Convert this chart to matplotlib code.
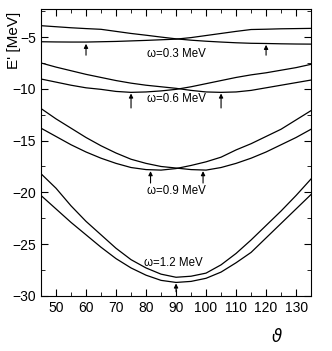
import numpy as np
import matplotlib
matplotlib.use("Agg")
import matplotlib.pyplot as plt
from matplotlib.ticker import MultipleLocator

plt.rcParams['font.family'] = ['Liberation Sans', 'DejaVu Sans']

theta = [45, 50, 55, 60, 65, 70, 75, 80, 85, 90, 95, 100, 105, 110, 115, 120, 125, 130, 135]

# omega = 0.3 MeV
w03_a = [-3.9, -4.0, -4.1, -4.18, -4.25, -4.45, -4.65, -4.82, -5.0, -5.17, -5.3, -5.4, -5.48, -5.55, -5.6, -5.62, -5.65, -5.67, -5.68]
w03_b = [-5.45, -5.47, -5.48, -5.48, -5.45, -5.42, -5.37, -5.32, -5.26, -5.2, -5.05, -4.85, -4.65, -4.45, -4.27, -4.24, -4.2, -4.18, -4.16]
# omega = 0.6 MeV
w06_a = [-7.5, -7.9, -8.25, -8.6, -8.9, -9.2, -9.45, -9.65, -9.8, -9.95, -10.15, -10.3, -10.34, -10.3, -10.15, -9.9, -9.65, -9.4, -9.15]
w06_b = [-9.05, -9.35, -9.65, -9.9, -10.05, -10.25, -10.34, -10.3, -10.2, -10.05, -9.8, -9.5, -9.2, -8.9, -8.65, -8.45, -8.2, -7.95, -7.63]
# omega = 0.9 MeV
w09_a = [-11.9, -12.9, -13.8, -14.7, -15.5, -16.2, -16.8, -17.2, -17.5, -17.65, -17.8, -17.85, -17.6, -17.2, -16.7, -16.1, -15.4, -14.7, -13.9]
w09_b = [-13.8, -14.6, -15.4, -16.1, -16.7, -17.2, -17.6, -17.8, -17.85, -17.7, -17.4, -17.05, -16.6, -15.9, -15.3, -14.6, -13.9, -13.0, -12.1]
# omega = 1.2 MeV
w12_a = [-18.2, -19.6, -21.3, -22.8, -24.1, -25.4, -26.5, -27.3, -27.9, -28.2, -28.1, -27.8, -27.0, -25.9, -24.6, -23.2, -21.8, -20.3, -18.7]
w12_b = [-20.3, -21.6, -22.9, -24.1, -25.3, -26.4, -27.3, -28.0, -28.5, -28.7, -28.6, -28.3, -27.7, -26.8, -25.8, -24.4, -23.0, -21.6, -20.2]

labels = ["\u03c9=0.3 MeV", "\u03c9=0.6 MeV", "\u03c9=0.9 MeV", "\u03c9=1.2 MeV"]
label_x = [90, 90, 90, 89]
label_y = [-6.6, -11.0, -19.9, -26.8]

arrow_x = [60, 120, 75, 105, 81.5, 99, 90]
arrow_tip = [-5.65, -5.75, -10.45, -10.45, -17.95, -17.95, -28.8]
arrow_tail = [-6.75, -6.75, -11.85, -11.85, -19.1, -19.1, -29.6]

fig = plt.figure(figsize=(3.32, 3.51), dpi=100)
ax = fig.add_axes([0.1235, 0.157, 0.8135, 0.817])

for a, b in [(w03_a, w03_b), (w06_a, w06_b), (w09_a, w09_b), (w12_a, w12_b)]:
    ax.plot(theta, a, color='black', lw=0.9)
    ax.plot(theta, b, color='black', lw=0.9)

for x, tip, tail in zip(arrow_x, arrow_tip, arrow_tail):
    ax.annotate('', xy=(x, tip), xytext=(x, tail),
                arrowprops=dict(arrowstyle='-|>', color='black', lw=0.8,
                                mutation_scale=6, shrinkA=0, shrinkB=0))

for t, x, y in zip(labels, label_x, label_y):
    ax.text(x, y, t, ha='center', va='center', fontsize=8.3)

ax.set_xlim(45, 135)
ax.set_ylim(-30, -2.3)
ax.xaxis.set_major_locator(MultipleLocator(10))
ax.xaxis.set_minor_locator(MultipleLocator(5))
ax.yaxis.set_major_locator(MultipleLocator(5))
ax.yaxis.set_minor_locator(MultipleLocator(2.5))
ax.tick_params(which='both', direction='in', top=True, right=True, labelsize=10)
ax.tick_params(which='major', length=5)
ax.tick_params(which='minor', length=3)

ax.set_ylabel("E' [MeV]", fontsize=11)
ax.yaxis.set_label_coords(-0.075, 0.89)
ax.set_xlabel(r'$\vartheta$', fontsize=12)
ax.xaxis.set_label_coords(0.874, -0.11)

fig.savefig('out.png', dpi=100)
